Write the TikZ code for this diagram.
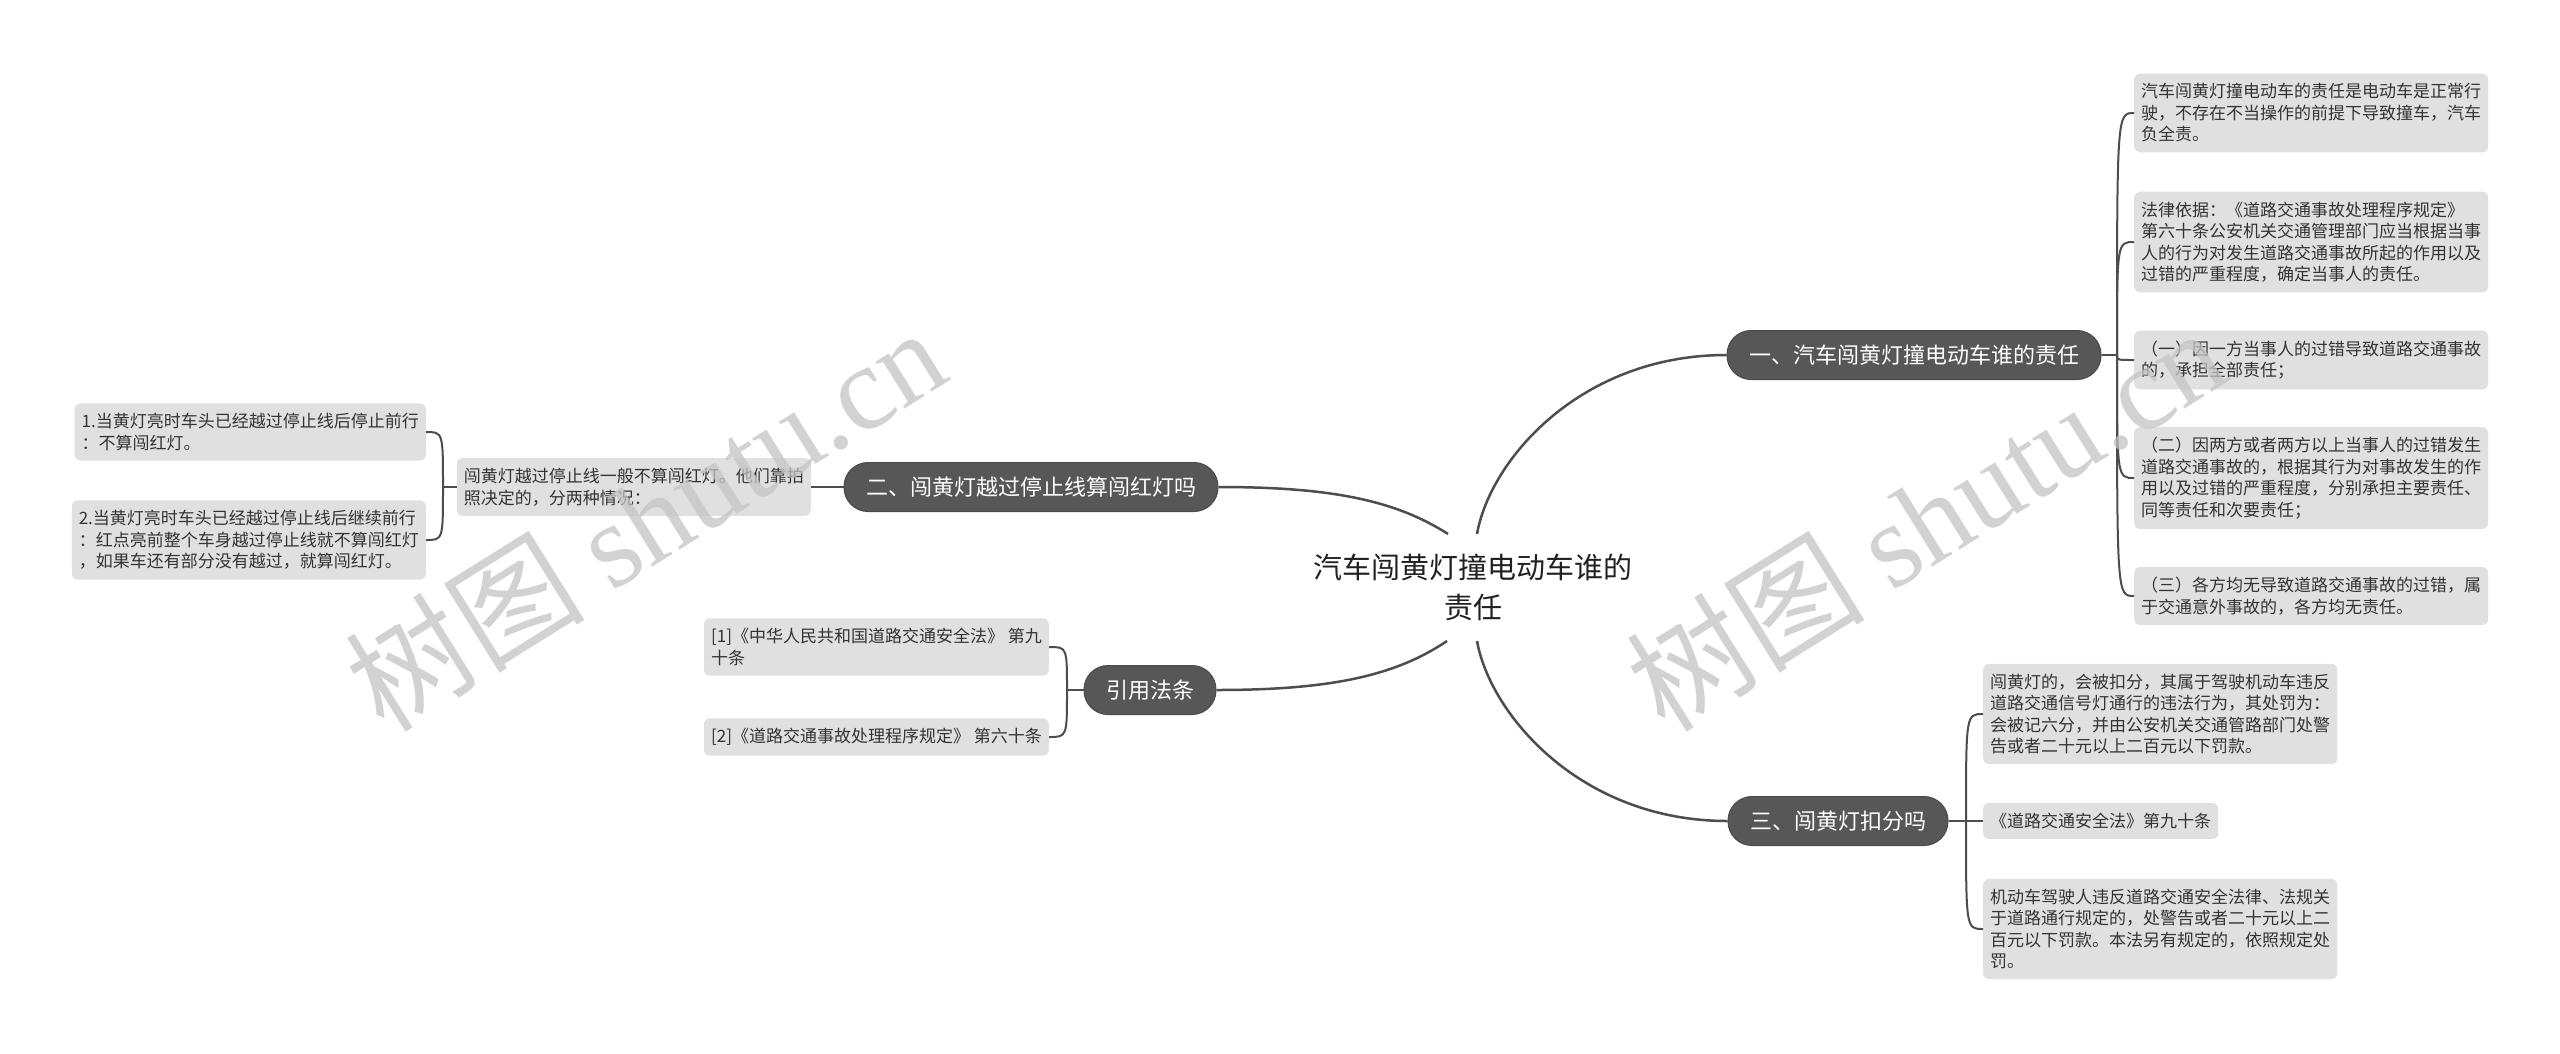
\documentclass[tikz,border=0pt]{standalone}
\usepackage{fontspec}
\setmainfont{Noto Sans CJK SC}
\newfontfamily\wmlatin{Liberation Serif}
\usetikzlibrary{calc}
\definecolor{branchfill}{HTML}{575757}
\definecolor{leaffill}{HTML}{E0E0E0}
\definecolor{leaftext}{HTML}{333333}
\definecolor{linec}{HTML}{4D4D4D}
\definecolor{wmc}{HTML}{C4C4C4}
\begin{document}
\begin{tikzpicture}[x=1pt,y=-1pt,
  leaf/.style={fill=leaffill, rounded corners=6pt, inner xsep=7pt, inner ysep=10pt, align=left, text=leaftext, font=\fontsize{17}{21.5}\selectfont},
  branch/.style={fill=branchfill, draw=branchfill!85!black, line width=1pt, rounded corners=24pt, minimum height=49pt, inner xsep=22pt, text=white, font=\fontsize{22}{26}\selectfont},
  central/.style={align=center, text=black!87, font=\fontsize{29}{40}\selectfont, minimum height=107pt},
  conn/.style={draw=linec, line width=2pt},
  mainconn/.style={draw=linec, line width=2.5pt},
  wm/.style={text=wmc, opacity=0.75, rotate=32, font=\fontsize{120}{120}\selectfont}
]
\fill[white] (0,0) rectangle (2560,1053);
\useasboundingbox (0,0) rectangle (2560,1053);

% central and branches
\node[central] (C) at (1473,587) {汽车闯黄灯撞电动车谁的\\责任};
\node[branch] (B1) at (1914,355) {一、汽车闯黄灯撞电动车谁的责任};
\node[branch] (B2) at (1031,487) {二、闯黄灯越过停止线算闯红灯吗};
\node[branch] (B3) at (1150,690) {引用法条};
\node[branch] (B4) at (1838,821) {三、闯黄灯扣分吗};

% leaves of branch 1
\node[leaf, anchor=west] (L1a) at (2134,113) {汽车闯黄灯撞电动车的责任是电动车是正常行\\驶，不存在不当操作的前提下导致撞车，汽车\\负全责。};
\node[leaf, anchor=west] (L1b) at (2134,242) {法律依据：《道路交通事故处理程序规定》\\第六十条公安机关交通管理部门应当根据当事\\人的行为对发生道路交通事故所起的作用以及\\过错的严重程度，确定当事人的责任。};
\node[leaf, anchor=west] (L1c) at (2134,360) {（一）因一方当事人的过错导致道路交通事故\\的，承担全部责任；};
\node[leaf, anchor=west] (L1d) at (2134,478) {（二）因两方或者两方以上当事人的过错发生\\道路交通事故的，根据其行为对事故发生的作\\用以及过错的严重程度，分别承担主要责任、\\同等责任和次要责任；};
\node[leaf, anchor=west] (L1e) at (2134,596) {（三）各方均无导致道路交通事故的过错，属\\于交通意外事故的，各方均无责任。};

% leaves of branch 4
\node[leaf, anchor=west] (L4a) at (1983,714) {闯黄灯的，会被扣分，其属于驾驶机动车违反\\道路交通信号灯通行的违法行为，其处罚为：\\会被记六分，并由公安机关交通管路部门处警\\告或者二十元以上二百元以下罚款。};
\node[leaf, anchor=west] (L4b) at (1983,821) {《道路交通安全法》第九十条};
\node[leaf, anchor=west] (L4c) at (1983,929) {机动车驾驶人违反道路交通安全法律、法规关\\于道路通行规定的，处警告或者二十元以上二\\百元以下罚款。本法另有规定的，依照规定处\\罚。};

% leaves of branch 2
\node[leaf, anchor=east] (L2) at (811,487) {闯黄灯越过停止线一般不算闯红灯。他们靠拍\\照决定的，分两种情况：};
\node[leaf, anchor=east] (L2a) at (426,432) {1.当黄灯亮时车头已经越过停止线后停止前行\\：不算闯红灯。};
\node[leaf, anchor=east] (L2b) at (426,540) {2.当黄灯亮时车头已经越过停止线后继续前行\\：红点亮前整个车身越过停止线就不算闯红灯\\，如果车还有部分没有越过，就算闯红灯。};

% leaves of branch 3
\node[leaf, anchor=east] (L3a) at (1049,647) {[1]《中华人民共和国道路交通安全法》 第九\\十条};
\node[leaf, anchor=east] (L3b) at (1049,737) {[2]《道路交通事故处理程序规定》 第六十条};

% anchor points
\coordinate (c1) at (1477,534);
\coordinate (c2) at (1448,534);
\coordinate (c3) at (1447,641);
\coordinate (c4) at (1477,641);
\coordinate (j1) at (2117,355);
\coordinate (j4) at (1966,821);
\coordinate (j2) at (443,487);
\coordinate (j3) at (1067,690);

% main connectors
\draw[mainconn] (c1) .. controls (1490,460) and (1580,355) .. (B1.west);
\draw[mainconn] (c2) .. controls (1395,500) and (1330,487) .. (B2.east);
\draw[mainconn] (c3) .. controls (1395,676) and (1330,690) .. (B3.east);
\draw[mainconn] (c4) .. controls (1490,714) and (1580,821) .. (B4.west);

% branch 1 bracket
\draw[conn] (B1.east) -- (j1);
\foreach \l in {L1a,L1b,L1c,L1d,L1e}
  \draw[conn] (j1) .. controls (j1 |- \l.west) and (j1 |- \l.west) .. (\l.west);

% branch 4 bracket
\draw[conn] (B4.east) -- (j4);
\foreach \l in {L4a,L4b,L4c}
  \draw[conn] (j4) .. controls (j4 |- \l.west) and (j4 |- \l.west) .. (\l.west);

% branch 2
\draw[conn] (B2.west) -- (L2.east);
\draw[conn] (L2.west) -- (j2);
\foreach \l in {L2a,L2b}
  \draw[conn] (j2) .. controls (j2 |- \l.east) and (j2 |- \l.east) .. (\l.east);

% branch 3
\draw[conn] (B3.west) -- (j3);
\foreach \l in {L3a,L3b}
  \draw[conn] (j3) .. controls (j3 |- \l.east) and (j3 |- \l.east) .. (\l.east);

% watermarks
\node[wm] (wm1) at (645,518) {树图 {\wmlatin shutu.cn}};
\node[wm] (wm2) at (1925,518) {树图 {\wmlatin shutu.cn}};
\end{tikzpicture}
\end{document}
